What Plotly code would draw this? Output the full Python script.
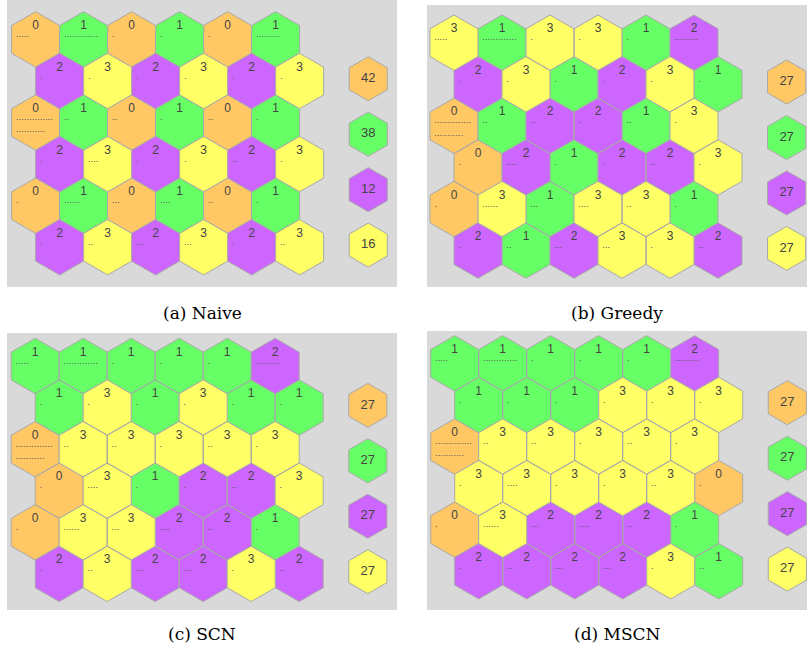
import math
import plotly.graph_objects as go

# ---------------- data ----------------
CLUSTERS = [0, 1, 2, 3]
CAPTIONS = ["(a) Naive", "(b) Greedy", "(c) SCN", "(d) MSCN"]

# number of items mapped to each hex cell (shown as dots)
WEIGHTS = [
    [5, 13, 1, 1, 1, 9],
    [1, 1, 1, 1, 1, 1],
    [25, 2, 2, 1, 2, 1],
    [1, 4, 1, 1, 2, 1],
    [1, 6, 3, 4, 2, 1],
    [1, 2, 3, 3, 1, 2],
]

NAIVE = [
    [0, 1, 0, 1, 0, 1],
    [2, 3, 2, 3, 2, 3],
    [0, 1, 0, 1, 0, 1],
    [2, 3, 2, 3, 2, 3],
    [0, 1, 0, 1, 0, 1],
    [2, 3, 2, 3, 2, 3],
]
GREEDY = [
    [3, 1, 3, 3, 1, 2],
    [2, 3, 1, 2, 3, 1],
    [0, 1, 2, 2, 1, 3],
    [0, 2, 1, 2, 2, 3],
    [0, 3, 1, 3, 3, 1],
    [2, 1, 2, 3, 3, 2],
]
SCN = [
    [1, 1, 1, 1, 1, 2],
    [1, 3, 1, 3, 1, 1],
    [0, 3, 3, 3, 3, 3],
    [0, 3, 1, 2, 2, 3],
    [0, 3, 3, 2, 2, 1],
    [2, 3, 2, 2, 3, 2],
]
MSCN = [
    [1, 1, 1, 1, 1, 2],
    [1, 1, 1, 3, 3, 3],
    [0, 3, 3, 3, 3, 3],
    [3, 3, 3, 3, 3, 0],
    [0, 3, 2, 2, 2, 1],
    [2, 2, 2, 2, 3, 1],
]
ASSIGNMENTS = [NAIVE, GREEDY, SCN, MSCN]

# ---------------- style / layout ----------------
COLORS = ["#FFC864", "#66FF66", "#CC66FF", "#FFFF66"]
EDGE = "#A8A8A8"
BG = "#D9D9D9"
TXT = "#444444"
W, H = 807, 655
PX = 48.0  # pixels per hex unit
PANELS = [
    dict(box=(7, 397, 0, 287), origin=(35.6, 39.4)),
    dict(box=(427, 807, 5, 287), origin=(454.0, 42.7)),
    dict(box=(7, 397, 333, 610), origin=(35.2, 366.0)),
    dict(box=(427, 807, 331, 610), origin=(454.7, 363.4)),
]
CAPTION_Y = [313, 313, 634, 634]
R = 1 / math.sqrt(3)
LEG_X, LEG_Y0, LEG_DY, LEG_SCALE = 6.93, 0.82, 1.155, 0.794
DOTS_PER_LINE = 14
DOT_SIZE = 9.5
DOT_LINE_PX = 1.3 * DOT_SIZE


def hex_poly(cx, cy, r):
    xs, ys = [], []
    for k in range(7):
        a = math.radians(90 + 60 * k)
        xs.append(cx + r * math.cos(a))
        ys.append(cy - r * math.sin(a))
    return xs, ys


fig = go.Figure()
layout = {}
annotations = []

for p, (assign, cap, cfg) in enumerate(zip(ASSIGNMENTS, CAPTIONS, PANELS)):
    sfx = "" if p == 0 else str(p + 1)
    xa, ya = "x" + sfx, "y" + sfx
    x0, x1, y0, y1 = cfg["box"]
    ox, oy = cfg["origin"]
    layout["xaxis" + sfx] = dict(
        domain=[x0 / W, x1 / W], range=[(x0 - ox) / PX, (x1 - ox) / PX],
        visible=False, anchor=ya, fixedrange=True)
    layout["yaxis" + sfx] = dict(
        domain=[1 - y1 / H, 1 - y0 / H], range=[(y1 - oy) / PX, (y0 - oy) / PX],
        visible=False, anchor=xa, fixedrange=True)

    centers = []
    for r, row in enumerate(assign):
        for c, cl in enumerate(row):
            cx = c + 0.5 * (r % 2)
            cy = r * math.sqrt(3) / 2
            centers.append((cx, cy, cl, WEIGHTS[r][c]))

    totals = {k: 0 for k in CLUSTERS}
    for k in CLUSTERS:
        px, py = [], []
        for cx, cy, cl, w in centers:
            if cl != k:
                continue
            totals[k] += w
            hx, hy = hex_poly(cx, cy, R)
            px += hx + [None]
            py += hy + [None]
        # legend hexagon
        ly = LEG_Y0 + CLUSTERS.index(k) * LEG_DY
        hx, hy = hex_poly(LEG_X, ly, R * LEG_SCALE)
        px += hx + [None]
        py += hy + [None]
        fig.add_trace(go.Scatter(
            x=px, y=py, mode="lines", fill="toself", fillcolor=COLORS[k],
            line=dict(color=EDGE, width=1), hoverinfo="skip", showlegend=False,
            xaxis=xa, yaxis=ya))

    # cluster numbers
    fig.add_trace(go.Scatter(
        x=[c[0] for c in centers], y=[c[1] - 0.28 for c in centers],
        text=[str(c[2]) for c in centers], mode="text",
        textfont=dict(family="Liberation Sans, Arial", size=12, color=TXT),
        textposition="middle center", hoverinfo="skip", showlegend=False,
        xaxis=xa, yaxis=ya))

    # item dots (wrapped at DOTS_PER_LINE per line)
    dx, dy, dt = [], [], []
    for cx, cy, cl, w in centers:
        lines = [("." * min(DOTS_PER_LINE, w - i)) for i in range(0, w, DOTS_PER_LINE)]
        dx.append(cx - 0.41)
        dy.append(cy - 0.1 + (len(lines) - 1) * 0.5 * DOT_LINE_PX / PX)
        dt.append("<br>".join(lines))
    fig.add_trace(go.Scatter(
        x=dx, y=dy, text=dt, mode="text",
        textfont=dict(family="Liberation Sans, Arial", size=DOT_SIZE, color="#555555"),
        textposition="middle right", hoverinfo="skip", showlegend=False,
        xaxis=xa, yaxis=ya))

    # legend totals
    fig.add_trace(go.Scatter(
        x=[LEG_X] * len(CLUSTERS),
        y=[LEG_Y0 + i * LEG_DY for i in range(len(CLUSTERS))],
        text=[str(totals[k]) for k in CLUSTERS], mode="text",
        textfont=dict(family="Liberation Sans, Arial", size=13, color=TXT),
        textposition="middle center", hoverinfo="skip", showlegend=False,
        xaxis=xa, yaxis=ya))

    annotations.append(dict(
        x=(x0 + x1) / 2 / W, y=1 - CAPTION_Y[p] / H, xref="paper", yref="paper",
        text=cap, showarrow=False, xanchor="center", yanchor="middle",
        font=dict(family="DejaVu Serif", size=17, color="#000000")))

fig.update_layout(
    width=W, height=H, margin=dict(l=0, r=0, t=0, b=0),
    paper_bgcolor="white", plot_bgcolor=BG, showlegend=False,
    hovermode=False, annotations=annotations, **layout)

fig.write_html(
    "out.html",
    config={"displayModeBar": False, "staticPlot": True},
    post_script="document.body.style.margin='0';document.body.style.overflow='hidden';")
